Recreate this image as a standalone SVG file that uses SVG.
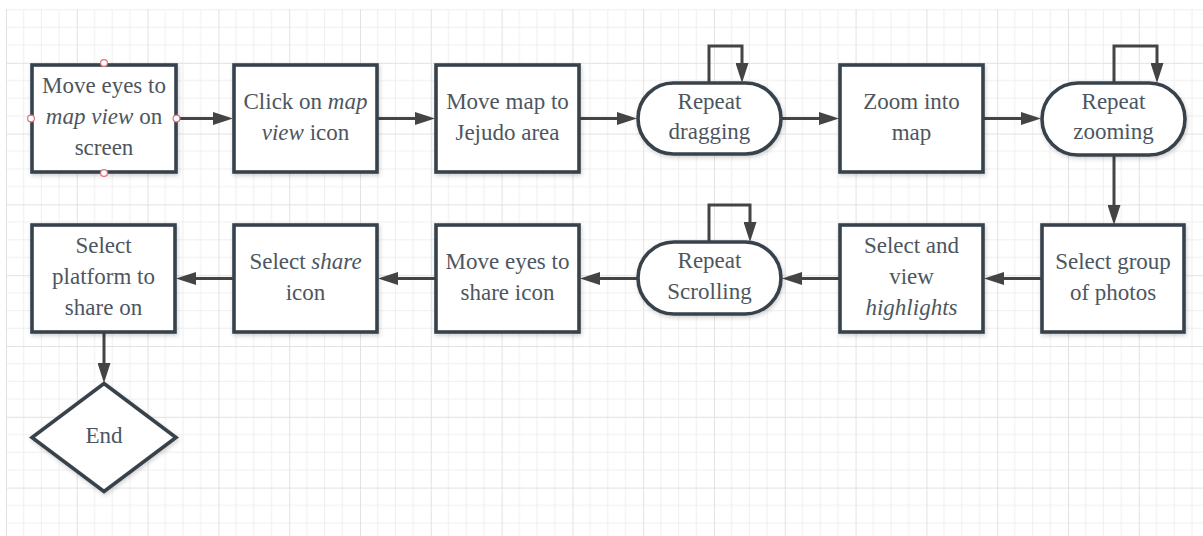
<svg xmlns="http://www.w3.org/2000/svg" width="1203" height="536" viewBox="0 0 1203 536">
  <defs>
    <!-- drafting grid: fine lines every 17.7px, heavier every 4th -->
    <pattern id="grid" patternUnits="userSpaceOnUse" x="6" y="-8" width="70.8" height="70.8">
      <path d="M17.7,0 V70.8 M35.4,0 V70.8 M53.1,0 V70.8 M0,17.7 H70.8 M0,35.4 H70.8 M0,53.1 H70.8" stroke="#efefef" stroke-width="1" fill="none"/>
      <path d="M0.5,0 V70.8 M0,0.5 H70.8" stroke="#e2e2e2" stroke-width="1" fill="none"/>
    </pattern>
    <filter id="shadow" x="-10%" y="-10%" width="125%" height="130%">
      <feDropShadow dx="1" dy="2" stdDeviation="2" flood-color="#000" flood-opacity="0.18"/>
    </filter>
    <marker id="arrow" markerUnits="userSpaceOnUse" markerWidth="20" markerHeight="13" refX="2" refY="6.5" orient="auto">
      <path d="M0,0 L20,6.5 L0,13 Z" fill="#444"/>
    </marker>
    <style>
      .shape { fill: #fff; stroke: #38424c; stroke-width: 3.6; filter: url(#shadow); }
      .link { fill: none; stroke: #444; stroke-width: 3; marker-end: url(#arrow); }
      .label { font-family: "Liberation Serif", "Times New Roman", serif; font-size: 23px; fill: #4d5660; text-anchor: middle; }
      .it { font-style: italic; }
      .handle { fill: #fff; stroke: #e0707a; stroke-width: 1.2; }
    </style>
  </defs>

  <rect x="0" y="0" width="1203" height="536" fill="#fff"/>
  <rect x="6" y="9" width="1197" height="527" fill="url(#grid)"/>

  <!-- connectors -->
  <g id="connectors">
    <path class="link" d="M176,118.5 H215"/>
    <path class="link" d="M377,118.5 H417"/>
    <path class="link" d="M579,118.5 H619"/>
    <path class="link" d="M781,118.5 H821"/>
    <path class="link" d="M983,118.5 H1023"/>
    <path class="link" d="M709,83 V46 H742 V65"/>
    <path class="link" d="M1114,83 V46 H1157 V65"/>
    <path class="link" d="M1114,155 V207"/>
    <path class="link" d="M1042,278.5 H1002"/>
    <path class="link" d="M840,278.5 H800"/>
    <path class="link" d="M709,242 V205 H750 V224"/>
    <path class="link" d="M638,278.5 H598"/>
    <path class="link" d="M436,278.5 H396"/>
    <path class="link" d="M234,278.5 H194"/>
    <path class="link" d="M104,332 V365"/>
  </g>

  <!-- top row -->
  <g id="move-eyes-map">
    <rect class="shape" x="32" y="65" width="144" height="107"/>
    <text class="label" x="104" y="92.5">Move eyes to</text>
    <text class="label" x="104" y="123.5"><tspan class="it">map view</tspan> on</text>
    <text class="label" x="104" y="154.5">screen</text>
    <circle class="handle" cx="104" cy="63" r="3.4"/>
    <circle class="handle" cx="31" cy="118.5" r="3.4"/>
    <circle class="handle" cx="176.5" cy="118.5" r="3.4"/>
    <circle class="handle" cx="104" cy="173" r="3.4"/>
  </g>
  <g id="click-map-view">
    <rect class="shape" x="234" y="65" width="143" height="107"/>
    <text class="label" x="305.5" y="108.5">Click on <tspan class="it">map</tspan></text>
    <text class="label" x="305.5" y="139.5"><tspan class="it">view</tspan> icon</text>
  </g>
  <g id="move-map">
    <rect class="shape" x="436" y="65" width="143" height="107"/>
    <text class="label" x="507.5" y="108.5">Move map to</text>
    <text class="label" x="507.5" y="139.5">Jejudo area</text>
  </g>
  <g id="repeat-dragging">
    <rect class="shape" x="638" y="83" width="143" height="71" rx="35.5" ry="35.5"/>
    <text class="label" x="709.5" y="108.5">Repeat</text>
    <text class="label" x="709.5" y="139">dragging</text>
  </g>
  <g id="zoom-map">
    <rect class="shape" x="840" y="65" width="143" height="107"/>
    <text class="label" x="911.5" y="108.5">Zoom into</text>
    <text class="label" x="911.5" y="139.5">map</text>
  </g>
  <g id="repeat-zooming">
    <rect class="shape" x="1042" y="83" width="143" height="72" rx="36" ry="36"/>
    <text class="label" x="1113.5" y="108.5">Repeat</text>
    <text class="label" x="1113.5" y="139">zooming</text>
  </g>

  <!-- bottom row -->
  <g id="select-group">
    <rect class="shape" x="1042" y="225" width="142" height="107"/>
    <text class="label" x="1113" y="268.5">Select group</text>
    <text class="label" x="1113" y="299.5">of photos</text>
  </g>
  <g id="view-highlights">
    <rect class="shape" x="840" y="225" width="143" height="107"/>
    <text class="label" x="911.5" y="252.5">Select and</text>
    <text class="label" x="911.5" y="283.5">view</text>
    <text class="label it" x="911.5" y="314.5">highlights</text>
  </g>
  <g id="repeat-scrolling">
    <rect class="shape" x="638" y="242" width="143" height="72" rx="36" ry="36"/>
    <text class="label" x="709.5" y="268">Repeat</text>
    <text class="label" x="709.5" y="298.5">Scrolling</text>
  </g>
  <g id="move-eyes-share">
    <rect class="shape" x="436" y="225" width="143" height="107"/>
    <text class="label" x="507.5" y="268.5">Move eyes to</text>
    <text class="label" x="507.5" y="299.5">share icon</text>
  </g>
  <g id="select-share">
    <rect class="shape" x="234" y="225" width="143" height="107"/>
    <text class="label" x="305.5" y="268.5">Select <tspan class="it">share</tspan></text>
    <text class="label" x="305.5" y="299.5">icon</text>
  </g>
  <g id="select-platform">
    <rect class="shape" x="32" y="225" width="143" height="107"/>
    <text class="label" x="103.5" y="252.5">Select</text>
    <text class="label" x="103.5" y="283.5">platform to</text>
    <text class="label" x="103.5" y="314.5">share on</text>
  </g>
  <g id="end">
    <polygon class="shape" points="104,383.5 176,437.5 104,491.5 32,437.5"/>
    <text class="label" x="104" y="442.5">End</text>
  </g>
</svg>
